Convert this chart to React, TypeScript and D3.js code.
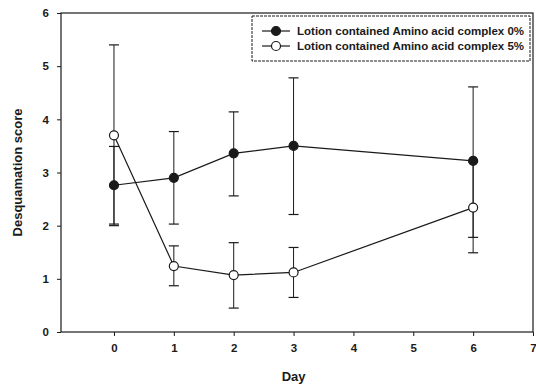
import { useEffect, useRef } from 'react'
import * as d3 from 'd3'

const days = [0, 1, 2, 3, 6]
const mean0 = [2.76, 2.9, 3.36, 3.5, 3.22]
const low0 = [2.0, 2.03, 2.56, 2.21, 1.49]
const high0 = [3.49, 3.77, 4.14, 4.78, 4.61]
const mean5 = [3.7, 1.24, 1.07, 1.12, 2.34]
const low5 = [2.03, 0.87, 0.45, 0.65, 1.78]
const high5 = [5.4, 1.62, 1.68, 1.59, 3.2]
const xTicks = [0, 1, 2, 3, 4, 5, 6, 7]
const yTicks = [0, 1, 2, 3, 4, 5, 6]
const seriesNames = ['Lotion contained Amino acid complex 0%', 'Lotion contained Amino acid complex 5%']

const W = 536, H = 387
const FONT = '"Liberation Sans", Arial, sans-serif'
const INK = '#1a1a1a'

export default function App() {
  const svgRef = useRef<SVGSVGElement>(null)

  useEffect(() => {
    const svg = svgRef.current
    if (!svg) return
    const sel = d3.select(svg)
    sel.selectAll('*').remove()

    const m = { top: 13, right: 3, bottom: 55, left: 61 }
    const iw = W - m.left - m.right
    const ih = H - m.top - m.bottom
    const g = sel.append('g').attr('transform', `translate(${m.left},${m.top})`)

    const x = d3.scaleLinear().domain([-0.885, 7]).range([0, iw])
    const y = d3.scaleLinear().domain([0, 6]).range([ih, 0])

    // 프레임
    g.append('rect').attr('width', iw).attr('height', ih)
      .attr('fill', 'none').attr('stroke', INK).attr('stroke-width', 1.2)

    // x축
    g.append('g')
      .attr('transform', `translate(0,${ih})`)
      .call(d3.axisBottom(x).tickValues(xTicks).tickSize(4).tickPadding(8).tickFormat(d3.format('d')))
      .call(ag => {
        ag.select('.domain').remove()
        ag.selectAll('line').attr('stroke', INK)
        ag.selectAll('text').attr('fill', INK).attr('font-size', 11.5).attr('font-weight', 'bold').attr('font-family', FONT)
      })

    // y축
    g.append('g')
      .call(d3.axisLeft(y).tickValues(yTicks).tickSize(4).tickPadding(8).tickFormat(d3.format('d')))
      .call(ag => {
        ag.select('.domain').remove()
        ag.selectAll('line').attr('stroke', INK)
        ag.selectAll('text').attr('fill', INK).attr('font-size', 11.5).attr('font-weight', 'bold').attr('font-family', FONT)
      })

    // 축 제목
    sel.append('text')
      .attr('x', m.left + x(3)).attr('y', 381)
      .attr('text-anchor', 'middle').attr('font-size', 13).attr('font-weight', 'bold')
      .attr('font-family', FONT).attr('fill', INK).text('Day')
    sel.append('text')
      .attr('transform', `translate(22,${m.top + y(3)}) rotate(-90)`)
      .attr('text-anchor', 'middle').attr('font-size', 13).attr('font-weight', 'bold')
      .attr('font-family', FONT).attr('fill', INK).text('Desquamation score')

    const groups = [
      { mean: mean0, low: low0, high: high0, fill: INK },
      { mean: mean5, low: low5, high: high5, fill: '#fff' },
    ]

    // 에러바
    groups.forEach(s => {
      days.forEach((d, i) => {
        const cx = x(d)
        g.append('line').attr('x1', cx).attr('x2', cx)
          .attr('y1', y(s.low[i])).attr('y2', y(s.high[i]))
          .attr('stroke', INK).attr('stroke-width', 1)
        ;[s.low[i], s.high[i]].forEach(v => {
          g.append('line').attr('x1', cx - 5).attr('x2', cx + 5)
            .attr('y1', y(v)).attr('y2', y(v))
            .attr('stroke', INK).attr('stroke-width', 1.2)
        })
      })
    })

    // 선 + 마커
    const line = d3.line<number>().x((_, i) => x(days[i])).y(v => y(v))
    groups.forEach(s => {
      g.append('path').datum(s.mean).attr('d', line)
        .attr('fill', 'none').attr('stroke', INK).attr('stroke-width', 1.2)
    })
    groups.forEach(s => {
      g.selectAll(null).data(s.mean).enter().append('circle')
        .attr('cx', (_, i) => x(days[i])).attr('cy', v => y(v)).attr('r', 4.5)
        .attr('fill', s.fill).attr('stroke', INK).attr('stroke-width', 1.2)
    })

    // 범례
    const lg = sel.append('g').attr('transform', 'translate(252,16)')
    lg.append('rect').attr('width', 278).attr('height', 45)
      .attr('fill', '#fff').attr('stroke', INK).attr('stroke-width', 1).attr('stroke-dasharray', '3,1')
    groups.forEach((s, i) => {
      const ly = 15 + i * 15
      lg.append('line').attr('x1', 10).attr('x2', 38).attr('y1', ly).attr('y2', ly)
        .attr('stroke', INK).attr('stroke-width', 1.2)
      lg.append('circle').attr('cx', 24).attr('cy', ly).attr('r', 4.5)
        .attr('fill', s.fill).attr('stroke', INK).attr('stroke-width', 1.2)
      lg.append('text').attr('x', 45).attr('y', ly + 4)
        .attr('font-size', 11.5).attr('font-weight', 'bold').attr('font-family', FONT)
        .attr('fill', INK).text(seriesNames[i])
    })
  }, [])

  return (
    <svg
      ref={svgRef}
      width={W}
      height={H}
      style={{ position: 'absolute', left: 0, top: 0, background: '#fff', display: 'block' }}
    />
  )
}
